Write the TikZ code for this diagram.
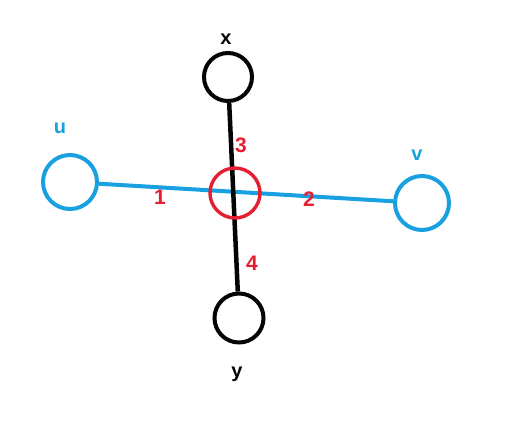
\documentclass[tikz,border=0pt]{standalone}
\usepackage{fontspec}
\setmainfont{Liberation Sans}
\definecolor{eblue}{RGB}{24,160,224}
\definecolor{ered}{RGB}{230,30,50}
\definecolor{eblack}{RGB}{5,5,5}
\begin{document}
\begin{tikzpicture}[x=1pt,y=-1pt,
  vtx/.style={circle,draw=#1,line width=4pt,minimum size=48pt,inner sep=0pt},
  lbl/.style={font=\bfseries\fontsize{20}{20}\selectfont,text=#1},
  num/.style={font=\bfseries\fontsize{21}{21}\selectfont,text=ered}]
\useasboundingbox[fill=white] (0,0) rectangle (514,430);
\node[vtx=eblack] (x) at (228,77) {};
\node[vtx=eblack,minimum size=49pt] (y) at (239,318) {};
\node[vtx=eblue,minimum size=54pt] (u) at (70,182) {};
\node[vtx=eblue,minimum size=54pt] (v) at (422,203) {};
\node[lbl=eblack] (xl) at (226,39) {x};
\node[lbl=eblack] (yl) at (237,374) {y};
\node[lbl=eblue] (ul) at (60,128) {u};
\node[lbl=eblue] (vl) at (417,155) {v};
\draw[eblue,line width=4pt] (u) -- (v);
\draw[eblack,line width=4.5pt] (x) -- (y);
\node[circle,draw=ered,line width=3.4pt,minimum size=50pt,inner sep=0pt] (c) at (235,193) {};
\node[num] (n3) at (241,145) {3};
\node[num] (n1) at (160,197) {1};
\node[num] (n2) at (309,199) {2};
\node[num] (n4) at (252,263) {4};
\end{tikzpicture}
\end{document}
